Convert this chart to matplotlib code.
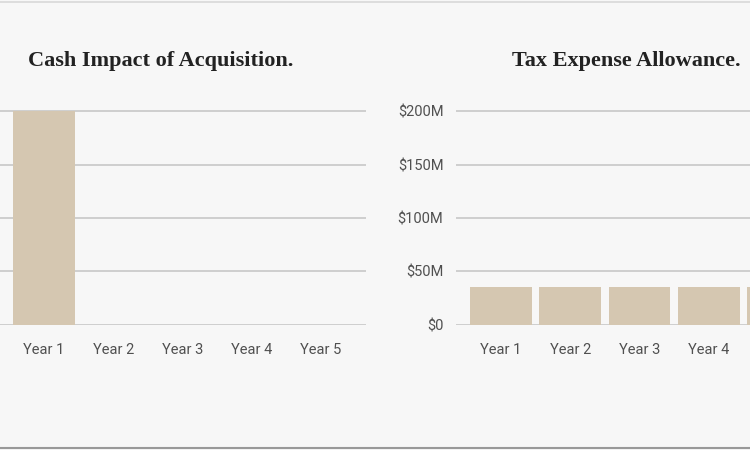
import matplotlib.pyplot as plt

# data
years = ["Year 1", "Year 2", "Year 3", "Year 4", "Year 5"]
cash_impact = [200, 0, 0, 0, 0]          # $M
tax_allowance = [35.5, 35.5, 35.5, 35.5, 35.5]  # $M
y_ticks = [0, 50, 100, 150, 200]
y_tick_labels = ["$0", "$50M", "$100M", "$150M", "$200M"]

bg = "#f7f7f7"
bar_color = "#d5c7b1"
grid_color = "#cbcbcb"
label_color = "#505050"

plt.rcParams['font.family'] = ['Roboto', 'DejaVu Sans']

fig = plt.figure(figsize=(7.5, 4.5), dpi=100, facecolor=bg)

def style_axes(ax, show_ylabels):
    ax.set_facecolor(bg)
    ax.set_xlim(-0.65, 4.65)
    ax.set_ylim(0, 205)
    ax.set_yticks(y_ticks)
    ax.set_yticklabels(y_tick_labels)
    ax.yaxis.grid(True, color=grid_color, linewidth=1.3)
    ax.set_axisbelow(True)
    for s in ax.spines.values():
        s.set_visible(False)
    ax.tick_params(axis='both', length=0, labelsize=10.5, colors=label_color)
    ax.tick_params(axis='x', pad=13)
    ax.tick_params(axis='y', pad=9, labelleft=show_ylabels)

# left chart (cropped at the left edge)
ax1 = fig.add_axes([-0.0013, 0.2778, 0.4893, 0.4874])
ax1.bar(range(len(years)), cash_impact, width=0.895, color=bar_color, zorder=3)
ax1.set_xticks(range(len(years)))
ax1.set_xticklabels(years)
style_axes(ax1, False)

# right chart (cropped at the right edge, last label falls outside)
ax2 = fig.add_axes([0.608, 0.2778, 0.4893, 0.4874])
ax2.bar(range(len(years)), tax_allowance, width=0.895, color=bar_color, zorder=3)
ax2.set_xticks(range(len(years)))
ax2.set_xticklabels(years)
ax2.get_xticklabels()[-1].set_visible(False)
style_axes(ax2, True)

title_font = dict(family=['Liberation Serif', 'DejaVu Serif'], fontsize=16,
                  fontweight='bold', color="#222222", va='baseline')
fig.text(28 / 750, 1 - 66 / 450, "Cash Impact of Acquisition.", ha='left', **title_font)
fig.text(741 / 750, 1 - 66 / 450, "Tax Expense Allowance.", ha='right', **title_font)

# thin frame lines at top and bottom
fig.add_artist(plt.Line2D([0, 1], [1 - 1.5 / 450, 1 - 1.5 / 450], color="#d8d8d8", linewidth=1.2))
fig.add_artist(plt.Line2D([0, 1], [2.5 / 450, 2.5 / 450], color="#999999", linewidth=1.5))

fig.savefig("out.png", dpi=100, facecolor=bg)
